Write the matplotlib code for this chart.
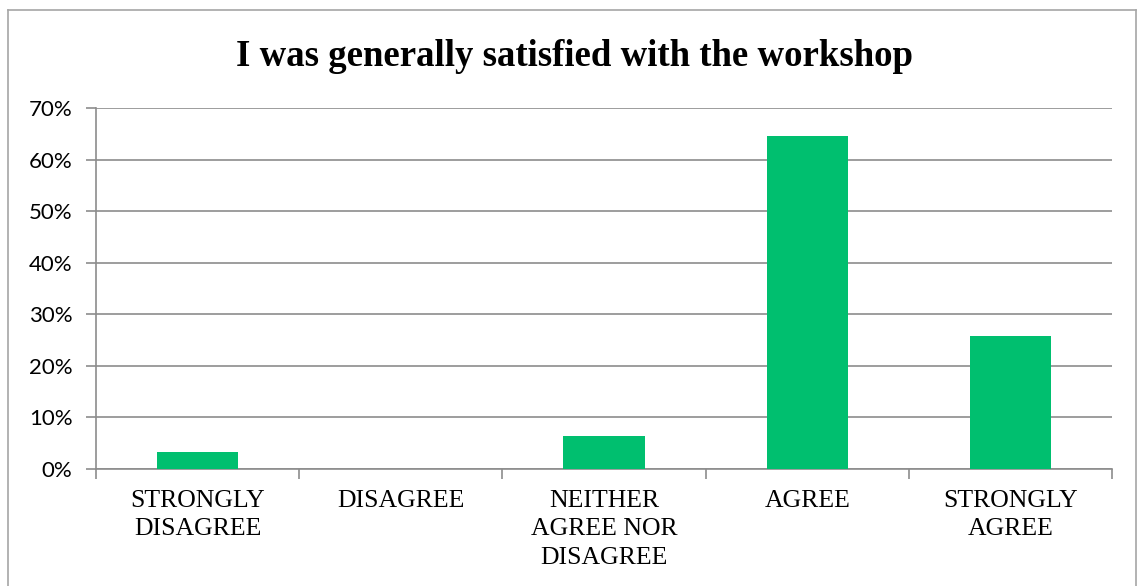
import numpy as np
import matplotlib.pyplot as plt
from matplotlib.lines import Line2D
from matplotlib.ticker import PercentFormatter, FixedLocator

categories = ['STRONGLY\nDISAGREE', 'DISAGREE', 'NEITHER\nAGREE NOR\nDISAGREE', 'AGREE', 'STRONGLY\nAGREE']
# share of 31 respondents
shares = [1 / 31, 0.0, 2 / 31, 20 / 31, 8 / 31]
title = 'I was generally satisfied with the workshop'

bar_color = '#00BF6F'
grid_color = '#8C8C8C'

fig = plt.figure(figsize=(11.38, 5.86), dpi=100)
ax = fig.add_axes([96 / 1138, 1 - 469 / 586, (1112 - 96) / 1138, (469 - 108) / 586])

x = np.arange(len(categories))
ax.bar(x, shares, width=0.4, color=bar_color, zorder=3)

ax.set_xlim(-0.5, len(categories) - 0.5)
ax.set_ylim(0, 0.7)
ax.set_yticks(np.arange(0, 0.71, 0.1))
ax.yaxis.set_major_formatter(PercentFormatter(1.0, decimals=0))
ax.grid(axis='y', color=grid_color, linewidth=1.2, zorder=0)

# category labels centred, tick marks on category boundaries
ax.set_xticks(x)
ax.set_xticklabels(categories, family='Liberation Serif', fontsize=18.5, linespacing=1.38)
ax.tick_params(axis='x', length=0, pad=15)
ax.xaxis.set_minor_locator(FixedLocator(np.arange(-0.5, len(categories), 1)))
ax.tick_params(axis='x', which='minor', length=7, color=grid_color, width=1.2)
ax.tick_params(axis='y', length=7, color=grid_color, width=1.2, pad=10, labelsize=16)
for lab in ax.get_yticklabels():
    lab.set_family('Lato')

for side in ['top', 'right']:
    ax.spines[side].set_visible(False)
for side in ['left', 'bottom']:
    ax.spines[side].set_color(grid_color)
    ax.spines[side].set_linewidth(1.2)

fig.text(575 / 1138, 1 - 57 / 586, title, ha='center', va='center',
         family='Liberation Serif', fontweight='bold', fontsize=26.5)

# chart frame
fx0, fx1, fy1 = 8 / 1138, 1136 / 1138, 1 - 10 / 586
for xs, ys in [([fx0, fx0], [0, fy1]), ([fx0, fx1], [fy1, fy1]), ([fx1, fx1], [fy1, 0])]:
    fig.add_artist(Line2D(xs, ys, transform=fig.transFigure, color='#A6A6A6', linewidth=1.2))

fig.savefig('out.png', dpi=100)
